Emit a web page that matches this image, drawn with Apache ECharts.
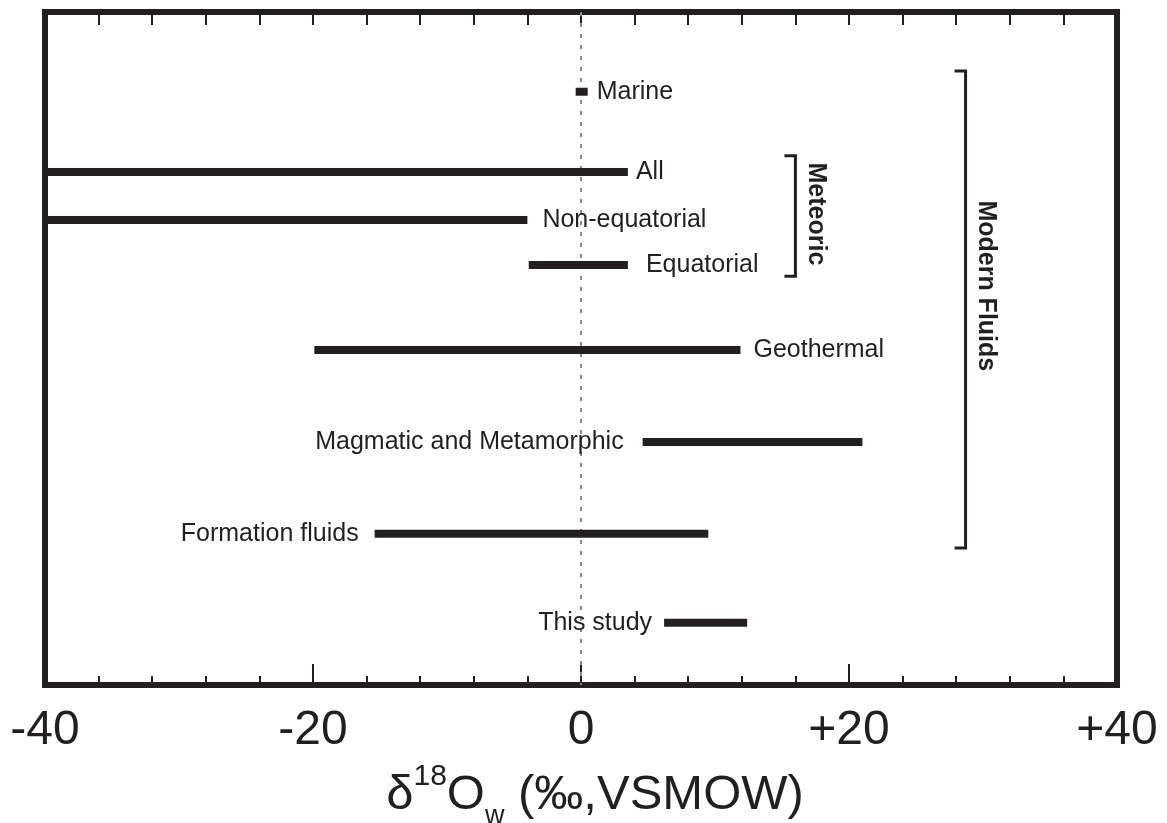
<!DOCTYPE html>
<html><head><meta charset="utf-8">
<script src="https://cdn.jsdelivr.net/npm/echarts@6/dist/echarts.min.js"></script>
<style>html,body{margin:0;padding:0;background:#fff}#c{width:1167px;height:823px}</style>
</head><body><div id="c"></div>
<script>
// ---- data ----
const rangeNames = ['Marine', 'All', 'Non-equatorial', 'Equatorial', 'Geothermal', 'Magmatic and Metamorphic', 'Formation fluids', 'This study'];
const rangeMin = [-0.4, -40, -40, -3.9, -19.9, 4.6, -15.4, 6.2];
const rangeMax = [0.5, 3.5, -4.0, 3.5, 11.9, 21.0, 9.5, 12.4];
const rowPos = [1.73, 3.47, 4.51, 5.49, 7.33, 9.33, 11.32, 13.25];
const groupNames = ['Meteoric', 'Modern Fluids'];
const groupX = [16.0, 28.7];
const groupFrom = [3.12, 1.28];
const groupTo = [5.73, 11.63];
const groupLabelAt = [4.38, 5.94];
const tickValues = [-40, -20, 0, 20, 40];
const tickLabels = ['-40', '-20', '0', '+20', '+40'];

// ---- style ----
const labelSide = ['right', 'right', 'right', 'right', 'right', 'left', 'left', 'left'];
const labelGap = [9, 8, 15, 18, 13, 19, 16, 12];
const INK = '#231f20';
const FONT = '"Liberation Sans", Arial, Helvetica, sans-serif';

const chart = echarts.init(document.getElementById('c'), null, {renderer: 'canvas'});

function renderRange(params, api) {
  const i = params.dataIndex;
  const p0 = api.coord([api.value(0), api.value(2)]);
  const p1 = api.coord([api.value(1), api.value(2)]);
  const h = 8;
  const right = labelSide[i] === 'right';
  return {type: 'group', children: [
    {type: 'rect', shape: {x: p0[0], y: p0[1] - h / 2, width: p1[0] - p0[0], height: h}, style: {fill: INK}},
    {type: 'text', x: right ? p1[0] + labelGap[i] : p0[0] - labelGap[i], y: p0[1],
     style: {text: rangeNames[i], fill: INK, fontSize: 25, fontFamily: FONT, align: right ? 'left' : 'right', verticalAlign: 'middle'}}
  ]};
}

function renderBracket(params, api) {
  const i = params.dataIndex;
  const top = api.coord([api.value(0), api.value(1)]);
  const bot = api.coord([api.value(0), api.value(2)]);
  const mid = api.coord([api.value(0), api.value(3)]);
  const arm = 11;
  return {type: 'group', children: [
    {type: 'polyline', shape: {points: [[top[0] - arm, top[1]], [top[0], top[1]], [bot[0], bot[1]], [bot[0] - arm, bot[1]]]},
     style: {stroke: INK, lineWidth: 3, fill: null}},
    {type: 'text', x: top[0] + 20, y: mid[1], rotation: -Math.PI / 2,
     style: {text: groupNames[i], fill: INK, fontSize: 25, fontWeight: 'bold', fontFamily: FONT, align: 'center', verticalAlign: 'middle'}}
  ]};
}

const option = {
  backgroundColor: '#fff',
  animation: false,
  grid: {left: 45, right: 50, top: 12, bottom: 138, show: true, borderColor: INK, borderWidth: 6, backgroundColor: 'transparent',
         containLabel: false, outerBoundsMode: 'none'},
  xAxis: [{
    type: 'value', position: 'bottom', min: -40, max: 40, interval: 20,
    axisLine: {show: false, onZero: false},
    axisTick: {show: true, inside: true, length: 21, lineStyle: {color: INK, width: 2}},
    minorTick: {show: true, splitNumber: 5, length: 9, lineStyle: {color: INK, width: 2}},
    splitLine: {show: false},
    axisLabel: {margin: 22, fontSize: 48, color: INK, fontFamily: FONT,
      formatter: v => tickLabels[tickValues.indexOf(v)]},
    name: '{a|δ}{sup|18}{a|O}{sub|w}{a| (‰,VSMOW)}',
    nameLocation: 'middle', nameGap: 75,
    nameTextStyle: {padding: [0, 0, 0, 28], rich: {
      a: {fontSize: 49, fontFamily: FONT, color: INK, lineHeight: 70},
      sup: {fontSize: 30, fontFamily: FONT, color: INK, lineHeight: 30, verticalAlign: 'top', padding: [2, 0, 0, 0]},
      sub: {fontSize: 27, fontFamily: FONT, color: INK, lineHeight: 22, verticalAlign: 'bottom'}
    }}
  }, {
    type: 'value', position: 'top', min: -40, max: 40, interval: 4,
    axisLine: {show: false, onZero: false},
    axisTick: {show: true, inside: true, length: 13, lineStyle: {color: INK, width: 2}},
    axisLabel: {show: false}, splitLine: {show: false}
  }],
  yAxis: {type: 'value', inverse: true, min: 0, max: 14.6, show: false},
  series: [{
    type: 'line', xAxisIndex: 0, data: [[0, 0], [0, 14.6]], symbol: 'none', silent: true,
    lineStyle: {color: '#8a8a8a', width: 2, type: [4, 7]}, z: 1
  }, {
    type: 'custom', xAxisIndex: 0, renderItem: renderRange, z: 3,
    data: rangeNames.map((n, i) => [rangeMin[i], rangeMax[i], rowPos[i]])
  }, {
    type: 'custom', xAxisIndex: 0, renderItem: renderBracket, z: 3,
    data: groupNames.map((n, i) => [groupX[i], groupFrom[i], groupTo[i], groupLabelAt[i]])
  }]
};
chart.setOption(option);
</script></body></html>
